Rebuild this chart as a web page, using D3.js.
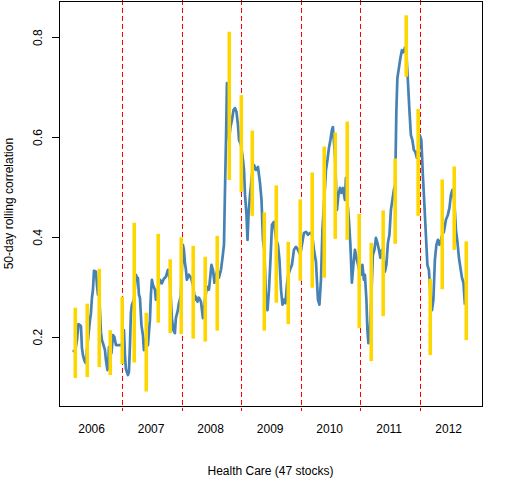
<!DOCTYPE html>
<html>
<head>
<meta charset="utf-8">
<script src="https://cdn.jsdelivr.net/npm/d3@7"></script>
<style>
    body { margin: 0; background: #fff; }
    text { font-family: "Liberation Sans", Arial, sans-serif; font-size: 12px; fill: #000; }
</style>
</head>
<body>
<svg id="chart" width="512" height="480"></svg>
<script>
// 50-day rolling correlation (dates as fractional years)
var corrYears = [
    2006.165, 2006.199, 2006.232, 2006.257, 2006.283, 2006.299, 2006.316, 2006.333, 2006.350, 2006.367,
    2006.383, 2006.400, 2006.425, 2006.451, 2006.467, 2006.484, 2006.501, 2006.518, 2006.551, 2006.568,
    2006.585, 2006.602, 2006.635, 2006.652, 2006.669, 2006.703, 2006.719, 2006.745, 2006.761, 2006.770,
    2006.787, 2006.812, 2006.837, 2006.862, 2006.887, 2006.921, 2006.955, 2006.988, 2007.022, 2007.039,
    2007.055, 2007.089, 2007.106, 2007.123, 2007.139, 2007.156, 2007.190, 2007.223, 2007.240, 2007.257,
    2007.274, 2007.291, 2007.316, 2007.341, 2007.358, 2007.375, 2007.391, 2007.408, 2007.425, 2007.459,
    2007.475, 2007.492, 2007.509, 2007.543, 2007.559, 2007.593, 2007.627, 2007.660, 2007.694, 2007.727,
    2007.761, 2007.795, 2007.828, 2007.853, 2007.879, 2007.895, 2007.929, 2007.946, 2007.963, 2007.979,
    2008.013, 2008.030, 2008.047, 2008.064, 2008.080, 2008.114, 2008.148, 2008.181, 2008.215, 2008.232,
    2008.257, 2008.282, 2008.316, 2008.332, 2008.349, 2008.383, 2008.416, 2008.450, 2008.467, 2008.492,
    2008.517, 2008.542, 2008.568, 2008.593, 2008.618, 2008.652, 2008.677, 2008.702, 2008.719, 2008.736,
    2008.752, 2008.769, 2008.786, 2008.811, 2008.836, 2008.862, 2008.887, 2008.912, 2008.937, 2008.954,
    2008.988, 2009.021, 2009.038, 2009.055, 2009.080, 2009.097, 2009.114, 2009.139, 2009.156, 2009.172,
    2009.206, 2009.240, 2009.273, 2009.307, 2009.332, 2009.357, 2009.379, 2009.408, 2009.433, 2009.458,
    2009.483, 2009.508, 2009.542, 2009.567, 2009.581, 2009.609, 2009.634, 2009.660, 2009.685, 2009.710,
    2009.735, 2009.760, 2009.782, 2009.811, 2009.844, 2009.878, 2009.912, 2009.945, 2009.984, 2010.012,
    2010.046, 2010.080, 2010.113, 2010.147, 2010.185, 2010.214, 2010.248, 2010.281, 2010.306, 2010.332,
    2010.357, 2010.387, 2010.416, 2010.441, 2010.466, 2010.491, 2010.516, 2010.533, 2010.572, 2010.600,
    2010.626, 2010.651, 2010.676, 2010.701, 2010.735, 2010.752, 2010.774, 2010.802, 2010.827, 2010.852,
    2010.878, 2010.903, 2010.936, 2010.975, 2011.004, 2011.029, 2011.054, 2011.071, 2011.096, 2011.113,
    2011.130, 2011.155, 2011.177, 2011.205, 2011.231, 2011.256, 2011.281, 2011.306, 2011.331, 2011.356,
    2011.378, 2011.407, 2011.432, 2011.458, 2011.483, 2011.508, 2011.533, 2011.558, 2011.580, 2011.600,
    2011.617, 2011.642, 2011.667, 2011.693, 2011.718, 2011.743, 2011.765, 2011.793, 2011.819, 2011.844,
    2011.869, 2011.894, 2011.919, 2011.945, 2011.966, 2011.995, 2012.020, 2012.045, 2012.071, 2012.096,
    2012.121, 2012.146, 2012.168, 2012.197, 2012.222, 2012.247, 2012.272, 2012.297, 2012.323, 2012.348,
    2012.370, 2012.398, 2012.432, 2012.465, 2012.491, 2012.516, 2012.541, 2012.571, 2012.600, 2012.625,
    2012.650, 2012.675, 2012.701, 2012.726, 2012.751
];
var corrValues = [
    0.173, 0.169, 0.193, 0.225, 0.223, 0.221, 0.177, 0.163, 0.155, 0.149,
    0.147, 0.173, 0.203, 0.233, 0.247, 0.278, 0.294, 0.332, 0.330, 0.304,
    0.284, 0.294, 0.209, 0.193, 0.187, 0.173, 0.153, 0.133, 0.153, 0.179,
    0.173, 0.167, 0.203, 0.199, 0.183, 0.183, 0.183, 0.183, 0.213, 0.163,
    0.135, 0.123, 0.129, 0.183, 0.247, 0.264, 0.274, 0.324, 0.318, 0.318,
    0.284, 0.278, 0.223, 0.203, 0.173, 0.177, 0.193, 0.213, 0.183, 0.233,
    0.284, 0.314, 0.304, 0.294, 0.274, 0.294, 0.314, 0.307, 0.316, 0.320,
    0.334, 0.314, 0.237, 0.213, 0.207, 0.237, 0.253, 0.267, 0.274, 0.284,
    0.384, 0.374, 0.348, 0.334, 0.314, 0.324, 0.318, 0.304, 0.274, 0.280,
    0.270, 0.278, 0.270, 0.254, 0.237, 0.274, 0.300, 0.294, 0.314, 0.344,
    0.334, 0.308, 0.324, 0.334, 0.318, 0.334, 0.358, 0.384, 0.494, 0.594,
    0.708, 0.654, 0.594, 0.620, 0.634, 0.654, 0.658, 0.650, 0.624, 0.594,
    0.584, 0.554, 0.534, 0.484, 0.444, 0.394, 0.444, 0.484, 0.504, 0.524,
    0.544, 0.534, 0.540, 0.508, 0.474, 0.394, 0.374, 0.274, 0.253, 0.294,
    0.354, 0.424, 0.430, 0.404, 0.394, 0.384, 0.354, 0.294, 0.264, 0.274,
    0.267, 0.304, 0.324, 0.334, 0.344, 0.374, 0.380, 0.374, 0.364, 0.384,
    0.408, 0.410, 0.404, 0.408, 0.404, 0.374, 0.350, 0.274, 0.264, 0.314,
    0.414, 0.474, 0.534, 0.554, 0.578, 0.594, 0.614, 0.620, 0.554, 0.454,
    0.484, 0.498, 0.488, 0.498, 0.474, 0.518, 0.474, 0.434, 0.384, 0.308,
    0.344, 0.374, 0.354, 0.334, 0.324, 0.344, 0.314, 0.324, 0.274, 0.213,
    0.187, 0.213, 0.274, 0.364, 0.374, 0.398, 0.388, 0.374, 0.358, 0.374,
    0.364, 0.330, 0.344, 0.388, 0.404, 0.454, 0.474, 0.494, 0.504, 0.654,
    0.718, 0.738, 0.758, 0.774, 0.770, 0.779, 0.775, 0.714, 0.654, 0.604,
    0.594, 0.574, 0.570, 0.558, 0.574, 0.604, 0.594, 0.524, 0.464, 0.404,
    0.344, 0.334, 0.294, 0.253, 0.274, 0.354, 0.384, 0.394, 0.384, 0.394,
    0.404, 0.410, 0.434, 0.444, 0.458, 0.484, 0.494, 0.474, 0.414, 0.390,
    0.358, 0.338, 0.318, 0.308, 0.264
];

// range of correlations inside each 50-day block
var barYears = [
    2006.204, 2006.405, 2006.607, 2006.792, 2006.993, 2007.195, 2007.397, 2007.598, 2007.800, 2007.985,
    2008.186, 2008.388, 2008.589, 2008.791, 2008.993, 2009.177, 2009.379, 2009.581, 2009.782, 2009.984,
    2010.185, 2010.387, 2010.572, 2010.774, 2010.975, 2011.177, 2011.378, 2011.580, 2011.765, 2011.966,
    2012.168, 2012.370, 2012.571, 2012.773
];
var barHigh = [
    0.258, 0.266, 0.336, 0.213, 0.280, 0.428, 0.248, 0.406, 0.355, 0.399,
    0.382, 0.360, 0.402, 0.811, 0.684, 0.613, 0.449, 0.503, 0.390, 0.475,
    0.529, 0.581, 0.609, 0.631, 0.446, 0.388, 0.453, 0.557, 0.844, 0.656,
    0.316, 0.515, 0.541, 0.391
];
var barLow = [
    0.117, 0.119, 0.139, 0.123, 0.145, 0.148, 0.090, 0.228, 0.207, 0.205,
    0.196, 0.190, 0.212, 0.514, 0.490, 0.442, 0.212, 0.268, 0.225, 0.312,
    0.298, 0.318, 0.396, 0.394, 0.217, 0.151, 0.241, 0.386, 0.721, 0.442,
    0.163, 0.295, 0.374, 0.193
];

var breakYears = [2007, 2008, 2009, 2010, 2011, 2012];
var yearLabels = ["2006", "2007", "2008", "2009", "2010", "2011", "2012"];
var yearLabelAt = [2006.478, 2007.478, 2008.478, 2009.478, 2010.478, 2011.478, 2012.478];
var yTicks = [0.2, 0.4, 0.6, 0.8];
var xExtent = [2005.930, 2013.037];
var yExtent = [0.061, 0.872];

// fractional year -> Date
function toDate(t) {
    var yr = Math.floor(t);
    var a = new Date(yr, 0, 1), b = new Date(yr + 1, 0, 1);
    return new Date(+a + (t - yr) * (b - a));
}

var plotLeft = 59, plotRight = 482, plotTop = 1.3, plotBottom = 406;

var svg = d3.select("#chart");

var x = d3.scaleTime()
    .domain(xExtent.map(toDate))
    .range([plotLeft, plotRight]);

var y = d3.scaleLinear()
    .domain(yExtent)
    .range([plotBottom, plotTop]);

// year boundaries
svg.append("g")
    .attr("shape-rendering", "crispEdges")
    .selectAll("line")
    .data(breakYears)
    .join("line")
    .attr("x1", d => x(toDate(d)))
    .attr("x2", d => x(toDate(d)))
    .attr("y1", 0)
    .attr("y2", plotBottom + 5)
    .attr("stroke", "#ff0000")
    .attr("stroke-width", 1)
    .attr("stroke-dasharray", "5,3");

// rolling correlation line
var line = d3.line()
    .x(i => x(toDate(corrYears[i])))
    .y(i => y(corrValues[i]));

svg.append("path")
    .attr("fill", "none")
    .attr("stroke", "steelblue")
    .attr("stroke-width", 2.7)
    .attr("stroke-linejoin", "round")
    .attr("d", line(d3.range(corrYears.length)));

// block ranges
svg.append("g")
    .selectAll("line")
    .data(d3.range(barYears.length))
    .join("line")
    .attr("x1", i => x(toDate(barYears[i])))
    .attr("x2", i => x(toDate(barYears[i])))
    .attr("y1", i => y(barHigh[i]))
    .attr("y2", i => y(barLow[i]))
    .attr("stroke", "gold")
    .attr("stroke-width", 3.6);

// box
svg.append("rect")
    .attr("shape-rendering", "crispEdges")
    .attr("x", plotLeft)
    .attr("y", plotTop)
    .attr("width", plotRight - plotLeft)
    .attr("height", plotBottom - plotTop)
    .attr("fill", "none")
    .attr("stroke", "#000")
    .attr("stroke-width", 1);

// y axis, labels turned like R
svg.append("g")
    .attr("transform", `translate(${plotLeft},0)`)
    .call(d3.axisLeft(y).tickValues(yTicks).tickSize(7).tickFormat(d3.format(".1f")))
    .call(g => g.select(".domain").remove())
    .call(g => g.selectAll(".tick line").attr("stroke", "#000").attr("shape-rendering", "crispEdges"))
    .call(g => g.selectAll(".tick text")
        .attr("transform", "rotate(-90)")
        .attr("x", 0)
        .attr("y", -16.7)
        .attr("dy", null)
        .attr("text-anchor", "middle")
        .attr("font-family", null)
        .attr("font-size", null)
        .attr("fill", "#000"));

// year labels (no tick marks)
svg.append("g")
    .selectAll("text")
    .data(yearLabels)
    .join("text")
    .attr("x", (d, i) => x(toDate(yearLabelAt[i])))
    .attr("y", plotBottom + 27.3)
    .attr("text-anchor", "middle")
    .text(d => d);

svg.append("text")
    .attr("x", (plotLeft + plotRight) / 2)
    .attr("y", 475)
    .attr("text-anchor", "middle")
    .text("Health Care (47 stocks)");

svg.append("text")
    .attr("transform", `translate(12.6,${(plotTop + plotBottom) / 2}) rotate(-90)`)
    .attr("text-anchor", "middle")
    .text("50-day rolling correlation");
</script>
</body>
</html>
